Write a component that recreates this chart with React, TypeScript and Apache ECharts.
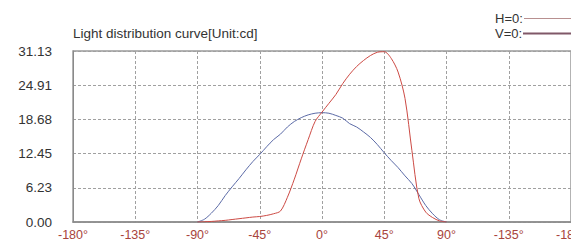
import React, { useEffect, useRef } from "react";
import * as echarts from "echarts";

const angles = [-90, -85, -80, -75, -70, -65, -60, -55, -50, -45, -40, -35, -30, -25, -20, -15, -10, -5, 0, 5, 10, 15, 20, 25, 30, 35, 40, 45, 50, 55, 60, 65, 70, 75, 80, 85, 90];
const hValues = [0, 0.05, 0.1, 0.2, 0.3, 0.45, 0.6, 0.75, 0.9, 1.0, 1.2, 1.5, 2.0, 4.5, 7.8, 11.5, 15.0, 18.3, 20.0, 21.6, 23.2, 25.2, 26.9, 28.3, 29.4, 30.3, 30.9, 31.0, 29.8, 27.3, 22.5, 13.0, 4.3, 1.8, 0.8, 0.2, 0];
const vValues = [0, 0.5, 1.6, 3.0, 4.8, 6.4, 7.9, 9.5, 11.0, 12.3, 13.7, 15.0, 16.0, 17.3, 18.3, 19.0, 19.5, 19.8, 19.9, 19.8, 19.4, 18.9, 17.9, 17.3, 16.4, 15.4, 14.1, 12.6, 11.2, 9.9, 8.4, 7.0, 5.0, 3.0, 1.5, 0.4, 0];
const yTickLabels = ["0.00", "6.23", "12.45", "18.68", "24.91", "31.13"];
const yMax = 31.13;
const titleText = "Light distribution curve[Unit:cd]";
const legendNames = ["H=0:", "V=0:"];

const FONT = "'Liberation Sans', Arial, sans-serif";

export default function App() {
  const ref = useRef<HTMLDivElement>(null);
  useEffect(() => {
    if (!ref.current) return;
    const chart = echarts.init(ref.current, undefined, { renderer: "svg" });
    const yInterval = yMax / 5;
    chart.setOption({
      animation: false,
      backgroundColor: "#ffffff",
      grid: {
        left: 73,
        top: 51,
        right: 0,
        bottom: 21,
        outerBoundsMode: "none",
        containLabel: false,
        show: true,
        borderColor: "#9a9a9a",
        borderWidth: 1.5,
      },
      xAxis: {
        type: "value",
        min: -180,
        max: 180,
        interval: 45,
        axisLine: { show: true, lineStyle: { color: "#8a8a8a", width: 1.5 } },
        axisTick: { show: false },
        axisLabel: {
          color: "#a8443c",
          fontFamily: FONT,
          fontSize: 12.5,
          margin: 6,
          formatter: (v: number) => (v > 90 ? `-${v}°` : `${v}°`),
        },
        splitLine: { show: true, lineStyle: { color: "#a0a0a0", type: [3, 2], width: 1 } },
      },
      yAxis: {
        type: "value",
        min: 0,
        max: yMax,
        interval: yInterval,
        axisLine: { show: true, onZero: false, lineStyle: { color: "#8a8a8a", width: 1 } },
        axisTick: { show: false },
        axisLabel: {
          color: "#333333",
          fontFamily: FONT,
          fontSize: 13.5,
          margin: 21,
          formatter: (v: number) => yTickLabels[Math.round(v / yInterval)] ?? "",
        },
        splitLine: { show: true, lineStyle: { color: "#a0a0a0", type: [3, 2], width: 1 } },
      },
      series: [
        {
          name: "V=0",
          type: "line",
          smooth: 0.3,
          showSymbol: false,
          data: angles.map((a, i) => [a, vValues[i]]),
          lineStyle: { color: "#5b6aa6", width: 1 },
          itemStyle: { color: "#5b6aa6" },
        },
        {
          name: "H=0",
          type: "line",
          smooth: 0.3,
          showSymbol: false,
          data: angles.map((a, i) => [a, hValues[i]]),
          lineStyle: { color: "#cc4a44", width: 1 },
          itemStyle: { color: "#cc4a44" },
        },
      ],
      graphic: [
        {
          type: "text",
          x: 73,
          y: 33,
          style: { text: titleText, fill: "#333333", font: `13.5px ${FONT}`, verticalAlign: "middle" },
        },
        {
          type: "text",
          x: 495,
          y: 18,
          style: { text: legendNames[0], fill: "#333333", font: `13px ${FONT}`, verticalAlign: "middle" },
        },
        {
          type: "line",
          shape: { x1: 524, y1: 18.5, x2: 571, y2: 18.5 },
          style: { stroke: "#b89090", lineWidth: 1 },
        },
        {
          type: "text",
          x: 495,
          y: 33,
          style: { text: legendNames[1], fill: "#333333", font: `13px ${FONT}`, verticalAlign: "middle" },
        },
        {
          type: "line",
          shape: { x1: 523, y1: 33.5, x2: 571, y2: 33.5 },
          style: { stroke: "#805868", lineWidth: 1.8 },
        },
      ],
    });
    return () => chart.dispose();
  }, []);
  return (
    <div style={{ position: "fixed", left: 0, top: 0, width: 571, height: 243, overflow: "hidden", background: "#fff" }}>
      <div ref={ref} style={{ width: 571, height: 243 }} />
    </div>
  );
}
